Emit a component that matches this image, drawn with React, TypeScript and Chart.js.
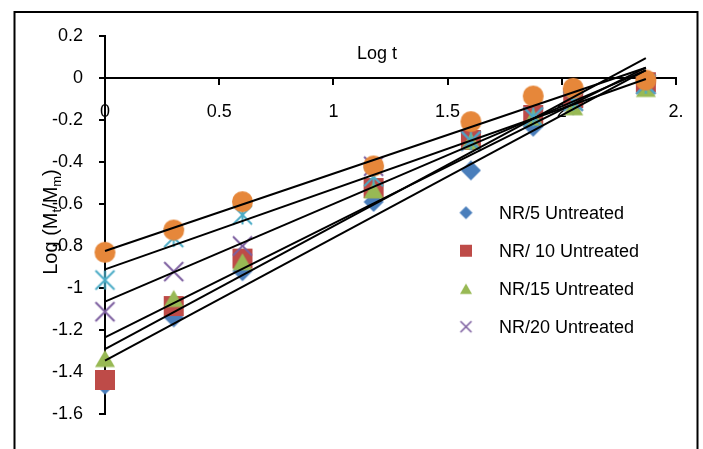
import React, { useEffect, useRef } from 'react';
import { Chart, registerables } from 'chart.js';

Chart.register(...registerables);

// ---- data ----
const xLogT = [0, 0.301, 0.602, 1.176, 1.602, 1.875, 2.05, 2.368];

const nr5 = [-1.46, -1.14, -0.92, -0.59, -0.44, -0.232, -0.13, -0.03];
const nr10 = [-1.438, -1.086, -0.86, -0.524, -0.295, -0.176, -0.095, -0.02];
const nr15 = [-1.336, -1.05, -0.875, -0.533, -0.3, -0.186, -0.137, -0.05];
const nr20 = [-1.113, -0.922, -0.8, -0.42, -0.3, -0.186, -0.11, -0.03];
const series5 = [-0.962, -0.76, -0.652, -0.47, -0.3, -0.186, -0.11, -0.03];
const series6 = [-0.83, -0.724, -0.589, -0.419, -0.208, -0.086, -0.049, -0.01];

const seriesNames = ['NR/5 Untreated', 'NR/ 10 Untreated', 'NR/15 Untreated', 'NR/20 Untreated', 'Series5', 'Series6'];
const legendCount = 4;

const xTickValues = [0, 0.5, 1, 1.5, 2, 2.5];
const xTickLabels = ['0', '0.5', '1', '1.5', '2', '2.'];
const yTickValues = [-1.6, -1.4, -1.2, -1, -0.8, -0.6, -0.4, -0.2, 0, 0.2];
const yTickLabels = ['-1.6', '-1.4', '-1.2', '-1', '-0.8', '-0.6', '-0.4', '-0.2', '0', '0.2'];

const xTitle = 'Log t';

// ---- styles ----
const FONT = "'Liberation Sans', Arial, sans-serif";
const colors = ['#4A7EBB', '#BE4B48', '#98B954', '#7D5FA0', '#4BACC6', '#E6873A'];
const shapes = ['diamond', 'square', 'triangle', 'x', 'star', 'circle'];
const dataSizes = [20, 20, 20, 19, 19, 21];
const legendSizes = [13, 12, 12, 11, 11, 12];

function makeMarker(shape: string, color: string, s: number): HTMLCanvasElement {
  const size = Math.ceil(s) + 6;
  const c = document.createElement('canvas');
  c.width = size;
  c.height = size;
  const g = c.getContext('2d') as CanvasRenderingContext2D;
  const cx = size / 2;
  const cy = size / 2;
  const h = s / 2;
  g.fillStyle = color;
  g.strokeStyle = color;
  g.lineWidth = s > 14 ? 2 : 1.6;
  g.beginPath();
  if (shape === 'diamond') {
    g.moveTo(cx, cy - h);
    g.lineTo(cx + h, cy);
    g.lineTo(cx, cy + h);
    g.lineTo(cx - h, cy);
    g.closePath();
    g.fill();
  } else if (shape === 'square') {
    g.rect(cx - h, cy - h, s, s);
    g.fill();
  } else if (shape === 'triangle') {
    const th = s * 0.86;
    g.moveTo(cx, cy - th / 2);
    g.lineTo(cx + h, cy + th / 2);
    g.lineTo(cx - h, cy + th / 2);
    g.closePath();
    g.fill();
  } else if (shape === 'x' || shape === 'star') {
    g.moveTo(cx - h, cy - h);
    g.lineTo(cx + h, cy + h);
    g.moveTo(cx + h, cy - h);
    g.lineTo(cx - h, cy + h);
    if (shape === 'star') {
      g.moveTo(cx, cy - h);
      g.lineTo(cx, cy + h);
    }
    g.stroke();
  } else {
    g.arc(cx, cy, h, 0, Math.PI * 2);
    g.fill();
  }
  return c;
}

function linFit(xs: number[], ys: number[]) {
  const n = xs.length;
  const mx = xs.reduce((a, b) => a + b, 0) / n;
  const my = ys.reduce((a, b) => a + b, 0) / n;
  let sxy = 0;
  let sxx = 0;
  for (let i = 0; i < n; i++) {
    sxy += (xs[i] - mx) * (ys[i] - my);
    sxx += (xs[i] - mx) * (xs[i] - mx);
  }
  const b = sxy / sxx;
  const a = my - b * mx;
  return { a, b };
}

export default function App() {
  const ref = useRef<HTMLCanvasElement | null>(null);

  useEffect(() => {
    const canvas = ref.current;
    if (!canvas) return;
    const allSeries = [nr5, nr10, nr15, nr20, series5, series6];
    const dataMarkers = allSeries.map((_, i) => makeMarker(shapes[i], colors[i], dataSizes[i]));
    const legendMarkers = allSeries.map((_, i) => makeMarker(shapes[i], colors[i], legendSizes[i]));

    const scatterSets: any[] = allSeries.map((s, i) => ({
      type: 'scatter',
      label: seriesNames[i],
      data: xLogT.map((x, j) => ({ x, y: s[j] })),
      pointStyle: dataMarkers[i],
      pointRadius: 10,
      pointHoverRadius: 10,
      showLine: false,
      clip: false,
      order: allSeries.length - i,
    }));

    const xmin = Math.min(...xLogT);
    const xmax = Math.max(...xLogT);
    const trendSets: any[] = allSeries.map((s, i) => {
      const { a, b } = linFit(xLogT, s);
      return {
        type: 'scatter',
        label: 'trend ' + seriesNames[i],
        data: [
          { x: xmin, y: a + b * xmin },
          { x: xmax, y: a + b * xmax },
        ],
        showLine: true,
        borderColor: '#000',
        borderWidth: 2,
        pointRadius: 0,
        pointHoverRadius: 0,
        clip: false,
        order: 0,
      };
    });

    const decor = {
      id: 'decor',
      afterDraw(chart: any) {
        const ctx = chart.ctx as CanvasRenderingContext2D;
        const area = chart.chartArea;
        ctx.save();
        // chart border
        ctx.strokeStyle = '#000';
        ctx.lineWidth = 2;
        ctx.strokeRect(14.5, 12, 683, 500);

        // x axis title (above the axis line)
        ctx.fillStyle = '#000';
        ctx.font = `18px ${FONT}`;
        ctx.textAlign = 'center';
        ctx.textBaseline = 'alphabetic';
        ctx.fillText(xTitle, 377, 59);

        // y axis title with subscripts
        const parts = [
          { t: 'Log (M', sub: false },
          { t: 't', sub: true },
          { t: '/M', sub: false },
          { t: 'm', sub: true },
          { t: ')', sub: false },
        ];
        const mainFont = `20px ${FONT}`;
        const subFont = `13px ${FONT}`;
        let total = 0;
        const widths = parts.map((p) => {
          ctx.font = p.sub ? subFont : mainFont;
          const w = ctx.measureText(p.t).width;
          total += w;
          return w;
        });
        ctx.translate(57, (area.top + area.bottom) / 2 - 3);
        ctx.rotate(-Math.PI / 2);
        ctx.textAlign = 'left';
        let px = -total / 2;
        parts.forEach((p, i) => {
          ctx.font = p.sub ? subFont : mainFont;
          ctx.fillText(p.t, px, p.sub ? 4 : 0);
          px += widths[i];
        });
        ctx.setTransform(1, 0, 0, 1, 0, 0);

        // legend
        const lx = area.left + 361;
        const ly = area.top + 176.7;
        const step = 38;
        ctx.font = `18px ${FONT}`;
        ctx.textAlign = 'left';
        ctx.textBaseline = 'alphabetic';
        for (let i = 0; i < legendCount; i++) {
          const m = legendMarkers[i];
          const cy = ly + i * step;
          ctx.drawImage(m, lx - m.width / 2, cy - m.height / 2);
          ctx.fillStyle = '#000';
          ctx.fillText(seriesNames[i], lx + 33, cy + 6.6);
        }
        ctx.restore();
      },
    };

    const chart = new Chart(canvas, {
      type: 'scatter',
      data: { datasets: [...scatterSets, ...trendSets] },
      options: {
        animation: false,
        responsive: false,
        events: [],
        layout: { padding: { left: 0, top: 36, right: 27, bottom: 35 } },
        plugins: {
          legend: { display: false },
          tooltip: { enabled: false },
          title: { display: false },
        },
        scales: {
          x: {
            type: 'linear',
            position: { y: 0 } as any,
            min: 0,
            max: 2.5,
            afterBuildTicks: (s: any) => {
              s.ticks = xTickValues.map((v) => ({ value: v }));
            },
            ticks: {
              callback: (_v: any, i: number) => xTickLabels[i],
              autoSkip: false,
              maxRotation: 0,
              padding: 17,
              color: '#000',
              font: { family: FONT, size: 18 },
            },
            grid: { drawOnChartArea: false, drawTicks: true, tickLength: 6, color: '#000', lineWidth: 2 },
            border: { display: true, color: '#000', width: 2 },
          },
          y: {
            type: 'linear',
            position: 'left',
            min: -1.6,
            max: 0.2,
            afterFit: (s: any) => {
              s.width = 105;
            },
            afterBuildTicks: (s: any) => {
              s.ticks = yTickValues.map((v) => ({ value: v }));
            },
            ticks: {
              callback: (_v: any, i: number) => yTickLabels[i],
              autoSkip: false,
              padding: 16,
              color: '#000',
              font: { family: FONT, size: 18 },
            },
            grid: { drawOnChartArea: false, drawTicks: true, tickLength: 6, color: '#000', lineWidth: 2 },
            border: { display: true, color: '#000', width: 2 },
          },
        },
      } as any,
      plugins: [decor],
    });

    return () => chart.destroy();
  }, []);

  return (
    <div style={{ position: 'fixed', left: 0, top: 0, width: 703, height: 449, background: '#fff' }}>
      <canvas ref={ref} width={703} height={449} style={{ display: 'block' }} />
    </div>
  );
}
